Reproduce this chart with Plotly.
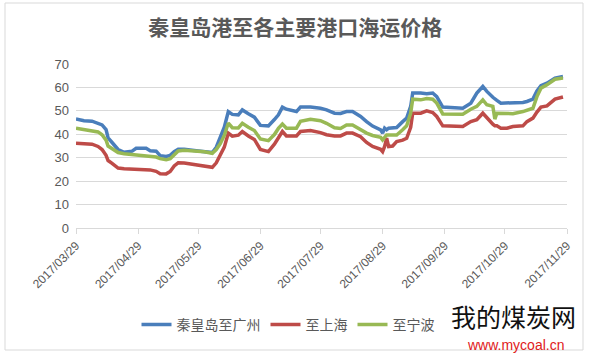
import plotly.graph_objects as go

dates = ["2017-03-29","2017-04-02","2017-04-06","2017-04-09","2017-04-11","2017-04-13","2017-04-14",
         "2017-04-16","2017-04-19","2017-04-22","2017-04-26","2017-04-28","2017-05-03","2017-05-05",
         "2017-05-08","2017-05-10","2017-05-13","2017-05-15","2017-05-17","2017-05-19","2017-05-22",
         "2017-05-28","2017-06-01","2017-06-05","2017-06-07","2017-06-09","2017-06-11","2017-06-13",
         "2017-06-15","2017-06-18","2017-06-20","2017-06-23","2017-06-26","2017-06-29","2017-07-03",
         "2017-07-06","2017-07-08","2017-07-10","2017-07-12","2017-07-17","2017-07-19","2017-07-24",
         "2017-07-29","2017-08-01","2017-08-05","2017-08-08","2017-08-11","2017-08-14","2017-08-18",
         "2017-08-21","2017-08-24","2017-08-28","2017-08-29","2017-08-30","2017-08-31","2017-09-01",
         "2017-09-03","2017-09-05","2017-09-08","2017-09-10","2017-09-12","2017-09-13","2017-09-17",
         "2017-09-20","2017-09-23","2017-09-25","2017-09-28","2017-10-08","2017-10-12","2017-10-15",
         "2017-10-18","2017-10-20","2017-10-23","2017-10-24","2017-10-25","2017-10-27","2017-10-30",
         "2017-11-02","2017-11-07","2017-11-09","2017-11-12","2017-11-14","2017-11-16","2017-11-19",
         "2017-11-23","2017-11-27"]

guangzhou = [46.5,45.8,45.6,44.8,44.0,42.0,38.5,36.5,33.5,32.3,32.8,34.0,34.0,33.0,32.8,30.9,30.5,31.0,
             32.6,33.6,33.6,33.0,32.6,32.2,34.5,39.0,43.0,49.7,48.5,48.3,50.4,48.8,47.3,43.8,43.6,46.3,
             48.3,51.6,50.7,49.7,51.6,51.6,51.1,50.4,49.0,48.9,49.7,49.7,47.6,45.4,43.5,41.9,40.5,42.6,
             41.9,42.6,42.8,42.9,45.4,46.9,51.9,57.6,57.6,57.3,57.6,56.1,51.6,51.1,53.3,57.6,60.4,58.3,
             55.8,55.0,54.5,53.3,53.3,53.3,53.6,54.0,55.0,58.5,60.7,61.8,64.0,64.7]

shanghai = [36.2,36.0,35.8,34.8,33.5,31.0,28.8,27.6,25.6,25.3,25.1,25.0,24.9,24.8,24.2,23.2,23.1,24.1,
            26.5,27.8,27.7,26.9,26.6,25.9,27.8,31.5,34.5,40.5,39.2,39.6,41.2,39.3,37.8,33.5,32.6,35.8,
            38.2,41.2,39.3,39.3,41.2,41.6,40.7,39.8,39.3,39.3,40.5,40.5,39.0,36.5,34.8,33.6,32.6,34.8,
            38.3,34.8,35.0,36.9,37.5,38.3,43.0,49.0,49.0,50.0,49.3,47.6,43.6,43.3,45.4,46.2,49.0,46.9,
            44.3,43.6,43.6,42.6,42.6,43.3,43.6,45.4,46.9,49.5,51.6,52.1,55.0,55.9]

third = [42.6,42.0,41.6,41.0,39.8,37.5,35.0,33.8,32.2,31.7,31.4,31.1,30.8,30.5,30.3,29.6,29.1,29.6,
         31.5,32.9,33.2,32.9,32.5,31.9,33.5,36.0,39.5,44.8,42.8,42.7,44.7,43.0,41.6,38.0,37.3,39.9,
         42.5,44.4,42.6,42.6,45.5,46.4,45.8,44.7,42.8,42.5,44.0,44.0,41.9,40.5,39.5,38.7,37.6,39.0,
         39.7,39.7,39.7,39.7,41.9,43.6,49.0,55.0,54.7,55.3,55.0,53.3,48.7,48.6,50.7,51.9,54.7,52.6,
         51.9,46.5,49.0,48.9,48.6,48.8,49.7,50.2,51.1,56.1,59.7,61.1,63.5,64.0]

series_names = ["秦皇岛至广州", "至上海", "至宁波"]
series_colors = ["#4A7EBB", "#BE4B48", "#98B954"]
tick_dates = ["2017-03-29","2017-04-29","2017-05-29","2017-06-29","2017-07-29",
              "2017-08-29","2017-09-29","2017-10-29","2017-11-29"]
tick_text = [d.replace("-", "/") for d in tick_dates]

fig = go.Figure()
for name, vals, col in zip(series_names, [guangzhou, shanghai, third], series_colors):
    fig.add_trace(go.Scatter(x=dates, y=vals, name=name, mode="lines",
                             line=dict(color=col, width=3.5)))

L, R, T, B = 76, 27, 64, 135
W, H = 594, 363
pw, ph = W - L - R, H - T - B

def px(x):
    return (x - L) / pw

def py(y):
    return (H - B - y) / ph

fig.update_layout(
    width=W, height=H,
    margin=dict(l=L, r=R, t=T, b=B, autoexpand=False),
    paper_bgcolor="white", plot_bgcolor="white",
    font=dict(family="Noto Sans CJK SC, sans-serif", color="#595959"),
    title=dict(text="<b>秦皇岛港至各主要港口海运价格</b>", x=0.497, xanchor="center",
               y=1 - 28 / H, yanchor="middle",
               font=dict(size=21, color="#595959", family="Noto Sans CJK SC, serif")),
    showlegend=True,
    legend=dict(orientation="h", x=px(288), xanchor="center", y=py(325), yanchor="middle",
                font=dict(size=14, color="#595959"), itemwidth=30, tracegroupgap=0,
                bgcolor="rgba(0,0,0,0)"),
    xaxis=dict(type="date", range=["2017-03-29", "2017-11-29"],
               tickvals=tick_dates, ticktext=tick_text, tickangle=-45,
               showgrid=False, showline=True, linecolor="#D9D9D9", linewidth=1,
               ticks="outside", ticklen=5, tickcolor="#D9D9D9",
               tickfont=dict(size=12, color="#595959", family="Liberation Sans, Arial")),
    yaxis=dict(range=[0, 70], dtick=10, showgrid=True, gridcolor="#D9D9D9", gridwidth=1,
               zeroline=False, showline=False, ticks="",
               tickfont=dict(size=13, color="#595959", family="Liberation Sans, Arial"),
               ticklabelstandoff=6),
    shapes=[dict(type="rect", xref="paper", yref="paper",
                 x0=px(5), x1=px(583), y0=py(350), y1=py(3),
                 line=dict(color="#D9D9D9", width=1), fillcolor="rgba(0,0,0,0)", layer="below")],
    annotations=[
        dict(text="我的煤炭网", xref="paper", yref="paper", x=px(513), y=py(316),
             xanchor="center", yanchor="middle", showarrow=False,
             font=dict(size=25, color="#111111", family="Noto Sans CJK SC")),
        dict(text="www.mycoal.cn", xref="paper", yref="paper", x=px(515), y=py(345),
             xanchor="center", yanchor="middle", showarrow=False,
             font=dict(size=14, color="#E0201A", family="Liberation Sans, Arial")),
    ],
)

fig.write_html("out.html", config={"displayModeBar": False},
               post_script="document.body.style.margin='0';document.body.style.overflow='hidden';")
